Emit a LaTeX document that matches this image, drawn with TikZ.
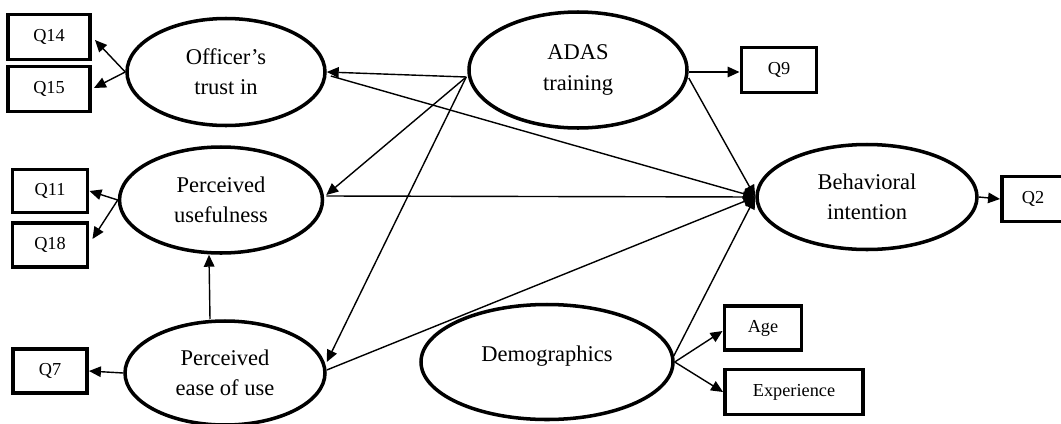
\documentclass[tikz,border=0pt]{standalone}
\usepackage{fontspec}
\setmainfont{Liberation Serif}
\usetikzlibrary{arrows.meta,shapes.geometric,calc}
\tikzset{
  latent/.style={draw, ellipse, line width=2.5pt, inner sep=0pt, align=center,
    font=\fontsize{16}{21.5}\selectfont},
  obs/.style={draw, rectangle, line width=2.8pt, inner sep=0pt,
    font=\fontsize{13}{15}\selectfont},
  path/.style={line width=1pt, -{Triangle[length=8.5pt,width=7.5pt]}}
}
\begin{document}
\begin{tikzpicture}[x=0.025cm,y=-0.025cm]
\useasboundingbox (0,0) rectangle (1061,423);
% latent variables
\node[latent, minimum width=198*0.025cm, minimum height=107*0.025cm] (ot) at (226,72) {Officer's\\trust in};
\node[latent, minimum width=218*0.025cm, minimum height=116*0.025cm] (adas) at (578,70) {ADAS\\training};
\node[latent, minimum width=220*0.025cm, minimum height=105*0.025cm] (bi) at (867,197) {Behavioral\\intention};
\node[latent, minimum width=203*0.025cm, minimum height=106*0.025cm] (pu) at (221,200) {Perceived\\usefulness};
\node[latent, minimum width=200*0.025cm, minimum height=104*0.025cm] (peou) at (225,373) {Perceived\\ease of use};
\node[latent, minimum width=252*0.025cm, minimum height=115*0.025cm, text depth=12pt] (demo) at (547,362) {Demographics};
% observed variables
\node[obs, minimum width=82*0.025cm, minimum height=45*0.025cm] (q14) at (49,37) {Q14};
\node[obs, minimum width=82*0.025cm, minimum height=45*0.025cm] (q15) at (49,89) {Q15};
\node[obs, minimum width=75*0.025cm, minimum height=43*0.025cm] (q11) at (50,191) {Q11};
\node[obs, minimum width=75*0.025cm, minimum height=44*0.025cm] (q18) at (50,245) {Q18};
\node[obs, minimum width=74*0.025cm, minimum height=44*0.025cm] (q7) at (50,371) {Q7};
\node[obs, minimum width=75*0.025cm, minimum height=45*0.025cm] (q9) at (779,70) {Q9};
\node[obs, minimum width=62*0.025cm, minimum height=45*0.025cm] (q2) at (1033,199) {Q2};
\node[obs, minimum width=77*0.025cm, minimum height=44*0.025cm] (age) at (763,328) {Age};
\node[obs, minimum width=138*0.025cm, minimum height=45*0.025cm] (exp) at (794,392) {Experience\hspace{0.6cm}};
% measurement arrows
\draw[path] (ot.west) -- ($(q14.east)+(3,3)$);
\draw[path] (ot.west) -- ($(q15.east)+(2,-1)$);
\draw[path] (pu.west) -- (q11.east);
\draw[path] (pu.west) -- ($(q18.east)+(3,-6)$);
\draw[path] (peou.west) -- (q7.east);
\draw[path] ($(adas.east)+(0,2)$) -- ($(q9.west)+(0,2)$);
\draw[path] (bi.east) -- (q2.west);
\draw[path] (demo.east) -- ($(age.west)+(0,3)$);
\draw[path] (demo.east) -- (exp.west);
% structural arrows
\draw[path] ($(peou.north)+(-15,0)$) -- ($(pu.south)+(-12,0)$);
\draw[path] ($(adas.west)+(-1,7)$) -- (ot.east);
\draw[path] ($(adas.west)+(-1,7)$) -- ($(pu.east)+(2,-5)$);
\draw[path] ($(adas.west)+(-1,7)$) -- ($(peou.east)+(0,-11)$);
\draw[path] ($(adas.east)+(0,8)$) -- (bi.west);
\draw[path] ($(ot.east)+(4,4)$) -- (bi.west);
\draw[path] ($(pu.east)+(2,-4)$) -- (bi.west);
\draw[path] ($(peou.east)+(0,-3)$) -- (bi.west);
\draw[path] ($(demo.east)+(-1,-6)$) -- (bi.west);
\end{tikzpicture}
\end{document}
